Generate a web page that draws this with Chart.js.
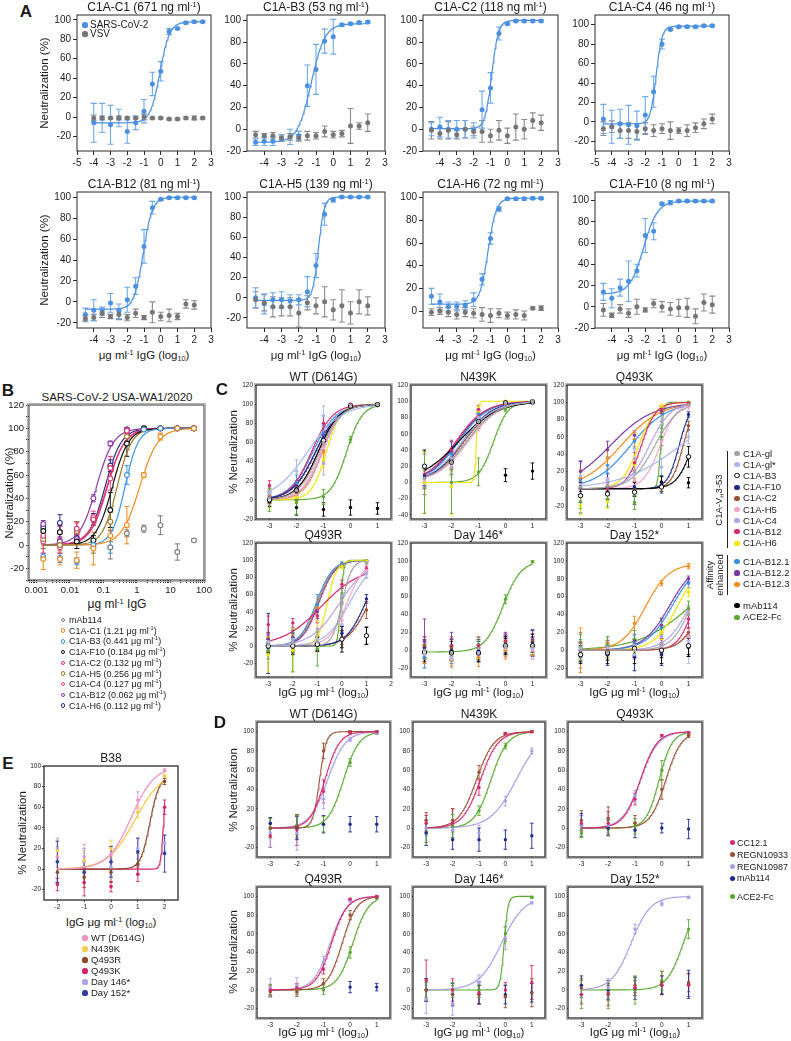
<!DOCTYPE html>
<html><head><meta charset="utf-8">
<script src="https://cdn.jsdelivr.net/npm/chart.js@4.4.1/dist/chart.umd.min.js"></script>
<style>
body{margin:0;background:#fff;width:791px;height:1041px;position:relative;overflow:hidden;font-family:"Liberation Sans",Arial,Helvetica,sans-serif;color:#1a1a1a;}
canvas{position:absolute;}
.t{position:absolute;white-space:nowrap;transform:translate(-50%,-50%);line-height:1;}
.l{position:absolute;white-space:nowrap;transform:translate(0,-50%);line-height:1;}
sup{font-size:0.62em;vertical-align:0.55em;line-height:0;}
sub{font-size:0.62em;vertical-align:-0.3em;line-height:0;}
</style></head><body>
<script>
// ================= DATA =================
// ---- Panel A ----
const aNames = ['C1A-C1','C1A-B3','C1A-C2','C1A-C4','C1A-B12','C1A-H5','C1A-H6','C1A-F10'];
const aIC50 = ['671','53','118','46','81','139','72','8'];
const aDoseC1 = [-4,-3.5,-3,-2.5,-2,-1.5,-1,-0.5,0,0.5,1,1.5,2,2.5];
const aDose = [-4.5,-4,-3.5,-3,-2.5,-2,-1.5,-1,-0.5,0,0.5,1,1.5,2];
const aSars = [
 [-6,-1,-8,-1,-15,-6,6,34,47,88,91,97,98,98],
 [-12,-11,-11,-8,-7,-6,40,55,81,85,96,97,98,98.5],
 [0,2,0,0,0,-1,18,38,88,97,99.5,99.5,99.5,99.5],
 [3,-5,-2,-3,-4,7,31,80,95,98,98,98,99,99],
 [-12,-8,-9,-1,-9,2,15,53,90,98,99.5,99.5,99.5,99.5],
 [0,-6,-2,-2,-3,-2,6,32,83,97,100,100,100,100],
 [13,8,4,4,5,10,28,64,90,99,99,99,99.5,99.5],
 [14,8,18,24,34,67,71,97,98,99.5,99.5,99.5,99.5,99.5]];
const aSarsErr = [
 [20,15,20,9,12,7,12,12,10,3,1,1,1,1],
 [3,4,4,3,7,4,19,23,11,16,1,1,1,1],
 [6,9,8,8,8,7,17,14,6,1,1,1,1,1],
 [15,17,15,20,15,19,16,5,1,1,1,1,1,1],
 [6,10,4,9,7,12,8,16,6,1,1,1,1,1],
 [10,10,7,8,6,5,15,12,11,2,1,1,1,1],
 [7,7,4,4,4,6,5,5,2,1,1,1,1,1],
 [8,9,8,19,6,16,8,1,2,1,1,1,1,1]];
const aVsv = [
 [-1,-1,-1,-1,-1,-1,0,-1,-1,-2,-2,-1,-1,-1],
 [-5,-6,-6,-8,-7,-8,-6,-6,-2,-5,-4,3,3,6],
 [-1,-4,-1,-5,0,-2,-2,-6,-1,-6,2,0,8,6],
 [-7,-5,-9,-9,-10,-7,-9,-7,-9,-9,-9,-6,-2,3],
 [-16,-15,-11,-14,-12,-15,-11,-15,-10,-14,-13,-14,-2,-3],
 [-2,-5,-9,-9,-9,-15,-5,-8,-4,-12,-8,-15,-4,-8],
 [-1,0,-1,-3,-1,-2,-3,-4,-2,-4,-3,-4,2.5,2.5],
 [-3,-8,-2,-6,0,-3,3,0,-2,-1,-1,-9,4,2]];
const aVsvErr = [
 [3,2,1,2,1,1,3,1,1,1,1,1,2,1],
 [3,2,3,3,3,3,4,3,5,3,3,16,3,8],
 [8,5,8,4,8,4,10,6,9,7,12,9,7,7],
 [7,6,8,8,8,6,6,5,9,3,6,5,5,5],
 [3,3,4,2,5,3,4,2,10,4,6,3,4,4],
 [8,8,10,9,9,14,7,8,15,10,16,11,12,9],
 [3,3,4,4,4,4,6,6,4,3,4,4,1,2],
 [6,2,4,4,7,2,4,5,6,8,9,7,8,8]];
// fit: [bottom, top, logEC50, hill]
const aFit = [[-6,98,-0.05,1.5],[-12,97,-1.28,1.1],[0.5,100,-0.93,2.2],[-2,98.5,-1.35,2.5],
 [-7,100,-1.05,1.6],[-2.5,100,-0.86,2.6],[6,99.5,-1.15,1.8],[12,99.5,-2.1,1.05]];
const aYRange = [[-35,105],[-20,105],[-20,105],[-30,110],[-25,105],[-30,105],[-15,105],[-20,108]];
const aXTicksFull = [-5,-4,-3,-2,-1,0,1,2,3];
const aXTicks = [-4,-3,-2,-1,0,1,2,3];
const aYTicks = [-20,0,20,40,60,80,100];
const aYTicksH6 = [0,20,40,60,80,100];

// ---- Panel B ----
const bConc = [0.0016,0.005,0.016,0.05,0.16,0.5,1.6,5,16,50];
const bNames = ['mAb114','C1A-C1','C1A-B3','C1A-F10','C1A-C2','C1A-H5','C1A-C4','C1A-B12','C1A-H6'];
const bIC50 = [null,'1.21','0.441','0.184','0.132','0.256','0.127','0.062','0.112'];
const bVals = [
 [null,null,null,null,-2,10,14,17,-6,4],
 [-12,-12,-13,-3,8,17,60,93,100,100],
 [-10,-11,-14,0,-2,60,99,100,100,100],
 [12,11,3,4,30,87,100,100,100,100],
 [8,11,14,22,66,98,100,100,100,100],
 [5,0,12,-2,20,93,100,100,100,100],
 [3,-2,11,24,57,97,100,100,100,100],
 [18,3,5,40,87,99,100,100,100,100],
 [15,19,6,22,68,99,100,100,100,100]];
const bErr = [
 [0,0,0,0,10,3,3,8,7,1],
 [9,5,7,14,5,16,2,3,1,1],
 [3,4,3,3,5,8,1,1,1,1],
 [5,6,6,4,15,11,1,1,1,1],
 [8,5,6,5,10,2,1,1,1,1],
 [8,5,8,5,8,4,1,1,1,1],
 [10,5,8,5,10,2,1,1,1,1],
 [3,4,4,3,2,1,1,1,1,1],
 [4,7,4,5,5,1,1,1,1,1]];
const bFit = [null,[0,100,0.083,1.6],[0,100,-0.356,2.2],[0,100,-0.735,1.8],[0,100,-0.879,1.7],
 [0,100,-0.592,2.0],[0,100,-0.896,1.6],[0,100,-1.208,1.7],[0,100,-0.951,1.8]];
const bXTicks = [0.001,0.01,0.1,1,10,100];
const bYTicks = [-20,0,20,40,60,80,100,120];

// ---- Panel C ----
const cDose = [-3,-2,-1,0,1];
const cNames = ['C1A-gl','C1A-gl*','C1A-B3','C1A-F10','C1A-C2','C1A-H5','C1A-C4','C1A-B12','C1A-H6','C1A-B12.1','C1A-B12.2','C1A-B12.3','mAb114','ACE2-Fc'];
const cTitles = ['WT (D614G)','N439K','Q493K','Q493R','Day 146*','Day 152*'];
const cWT = [[2,10,60,99,100],[8,30,88,99,100],[0,10,62,98,99.5],[1,12,65,99,100],[3,8,60,99,100],[4,6,55,99,100],[2,6,38,98,100],[15,12,80,100,100],[0,3,42,99,100],[2,18,70,99,100],[3,12,68,99,100],[4,5,50,99,100],[-2,-8,-10,-8,-9],[0,-3,3,63,99]];
const cWTErr = [[4,6,8,1,1],[5,12,10,1,1],[4,5,6,1,1],[4,5,7,1,1],[6,6,8,1,1],[10,6,8,1,1],[8,6,12,1,1],[5,8,8,1,1],[8,5,8,1,1],[5,8,8,1,1],[5,6,8,1,1],[8,6,10,1,1],[5,8,7,8,6],[12,12,8,3,1]];
const cWTFit = [[-1.15,1.1],[-1.6,0.7],[-1.2,1.1],[-1.3,1.0],[-1.2,1.1],[-1.1,1.2],[-1.05,1.2],[-1.45,1.1],[-0.9,1.6],[-1.4,1.0],[-1.3,1.0],[-1.05,1.3],null,[-0.15,1.5]];
const cN439K = [[5,25,75,97,100],[5,30,80,98,100],[20,25,75,98,99],[8,30,80,98,100],[5,28,78,97,100],[3,20,72,96,100],[3,22,75,97,100],[10,40,90,99,100],[0,-5,88,100,100],[5,35,85,99,100],[8,38,85,99,100],[3,25,80,98,100],[null,null,null,9,14],[0,0,13,90,100]];
const cN439KErr = [[10,10,8,2,1],[12,12,8,2,1],[20,15,8,2,1],[12,12,8,2,1],[12,12,8,2,1],[10,12,8,2,1],[10,12,8,2,1],[25,12,5,1,1],[38,35,5,1,1],[12,15,5,1,1],[12,12,5,1,1],[12,12,8,1,1],[0,0,0,8,10],[38,38,17,3,1]];
const cN439KFit = [[-1.45,0.75],[-1.6,0.75],[-1.75,0.6],[-1.6,0.8],[-1.55,0.75],[-1.4,0.75],[-1.45,0.75],[-1.85,0.8],[-1.08,12],[-1.75,0.8],[-1.8,0.8],[-1.55,0.8],null,[-0.45,1.6]];
const cQ493K = [[2,3,20,65,97],[15,10,18,25,60],[-8,-6,-4,2,37],[2,3,2,5,86],[2,2,0,2,73],[3,4,10,55,95],[5,5,35,78,97],[1,0,30,92,99],[-20,-15,28,95,99],[10,27,55,92,98],[20,45,62,90,98],[12,35,57,93,99],[2,2,2,8,7],[-15,-13,-16,60,100]];
const cQ493KErr = [[10,8,8,8,2],[15,12,10,10,8],[8,6,5,5,12],[30,15,20,10,3],[10,8,8,5,5],[10,8,8,10,3],[10,8,10,8,2],[10,8,12,3,1],[10,8,10,3,1],[10,10,8,3,1],[12,10,5,3,1],[10,12,8,3,1],[5,5,5,6,6],[8,8,8,10,1]];
const cQ493KFit = [[-0.25,1.0],[0.7,0.4],[1.15,1.5],[0.65,2.0],[0.8,2.0],[-0.05,1.4],[-0.45,1.1],[-0.75,1.6],[-0.85,1.4],[-1.15,0.65],[-1.9,0.55],[-1.5,0.6],null,[-0.03,8]];
const cQ493R = [[2,3,5,50,97],[5,5,8,25,85],[0,0,2,8,12],[3,5,3,15,55],[2,2,3,10,42],[3,5,8,30,88],[5,8,20,58,84],[25,27,35,72,90],[-10,-5,20,93,99],[5,8,48,96,99],[8,10,40,94,99],[3,5,45,95,99],[0,0,2,8,12],[-5,-5,-3,57,99]];
const cQ493RErr = [[8,8,8,10,2],[10,10,8,10,5],[8,8,8,10,10],[35,10,8,8,5],[8,8,8,8,10],[8,8,8,10,3],[8,8,8,10,5],[10,5,8,5,3],[20,25,10,3,1],[8,8,12,2,1],[8,8,8,2,1],[8,8,10,2,1],[8,10,8,15,10],[10,25,20,5,1]];
const cQ493RFit = [[0,2.2],[0.3,0.9],null,[0.95,1.1],[1.1,1.0],[0.2,1.2],[-0.1,0.75],[-0.85,0.55],[-0.6,2.2],[-1.05,1.3],[-0.95,1.3],[-1.0,1.3],null,[-0.05,7]];
const cD146 = [[0,-3,2,3,4],[-5,-8,-3,5,2],[-2,-3,-3,5,5],[2,0,0,6,8],[5,3,2,8,10],[-3,-10,-5,2,0],[-2,-5,-3,5,5],[3,5,5,10,6],[-2,-3,-2,3,3],[-8,-5,-3,8,5],[10,5,2,10,12],[-5,-8,-8,0,4],[-5,0,-5,5,8],[-2,-3,6,57,99]];
const cD146Err = [[8,10,8,10,10],[15,12,10,10,12],[8,8,8,8,10],[10,12,10,10,15],[10,10,10,10,12],[10,8,8,10,10],[10,10,10,10,10],[12,10,10,8,12],[8,8,8,8,8],[12,10,10,8,10],[25,15,10,10,10],[10,10,10,10,10],[8,10,8,10,10],[8,8,8,5,1]];
const cD146Fit = [null,null,null,null,null,null,null,null,null,null,null,null,null,[-0.1,1.3]];
const cD152 = [[0,-2,0,8,40],[2,3,-5,5,10],[-5,-3,2,0,5],[-2,-5,-8,-5,5],[0,0,2,5,20],[0,2,3,3,15],[0,2,5,15,42],[0,0,1,5,35],[0,0,5,20,65],[2,3,8,25,75],[1,3,10,28,80],[0,3,30,75,94],[-5,-5,-5,-5,3],[3,5,12,25,47]];
const cD152Err = [[10,10,10,10,10],[15,12,18,15,25],[8,8,10,8,10],[10,12,15,12,12],[20,8,8,8,5],[10,8,8,8,8],[10,8,8,10,8],[8,8,8,8,10],[10,8,8,8,5],[10,8,8,10,5],[8,8,8,8,3],[25,8,8,3,3],[10,10,10,10,10],[15,10,10,8,8]];
const cD152Fit = [[1.1,1.2],null,null,null,[1.5,1.2],[1.5,1.2],[1.05,1.0],[1.2,1.5],[0.6,1.0],[0.4,0.9],[0.3,0.9],[-0.6,1.0],null,[1.1,0.45]];
const cYRange = [[-20,120],[-45,120],[-35,120],[-36,120],[-30,120],[-30,120]];
const cXMax = [1.5,1.5,1.5,2,1.5,1.5];
const cYTicks = [[-20,0,20,40,60,80,100,120],[-40,-20,0,20,40,60,80,100,120],[-20,0,20,40,60,80,100,120],[-20,0,20,40,60,80,100,120],[-20,0,20,40,60,80,100,120],[-20,0,20,40,60,80,100,120]];
const cXTicks = [[-3,-2,-1,0,1],[-3,-2,-1,0,1],[-3,-2,-1,0,1],[-3,-2,-1,0,1,2],[-3,-2,-1,0,1],[-3,-2,-1,0,1]];

// ---- Panel D ----
const dDose = [-3,-2,-1,0,1];
const dNames = ['CC12.1','REGN10933','REGN10987','mAb114','ACE2-Fc'];
const dTitles = ['WT (D614G)','N439K','Q493K','Q493R','Day 146*','Day 152*'];
const dVals = [
 [[-8,-2,38,99,100],[0,2,80,100,100],[-5,-5,30,92,98],[5,0,4,4,4],[0,3,4,68,99]],
 [[5,5,42,98,100],[8,8,58,98,100],[0,-2,-5,28,80],[-5,-12,-12,-12,-8],[-5,2,18,85,100]],
 [[5,5,30,96,99],[8,10,5,40,96],[3,3,33,95,99],[3,0,-2,0,-1],[-5,0,2,60,98]],
 [[0,2,22,97,100],[-2,-2,7,80,99],[2,5,30,95,99],[null,null,null,3,3],[0,0,0,40,98]],
 [[10,0,-3,0,8],[0,-5,-5,-7,-3],[-10,-15,8,55,93],[0,-5,-5,-5,-3],[0,0,0,60,99]],
 [[-5,-5,2,5,5],[2,-3,5,8,8],[-5,2,65,92,99],[5,0,2,5,6],[-5,-5,0,10,65]]];
const dErr = [
 [[12,16,12,1,1],[10,12,8,1,1],[15,18,10,2,1],[6,12,9,8,8],[10,10,8,4,1]],
 [[8,15,8,1,1],[8,12,7,1,1],[8,8,8,5,3],[13,10,12,10,13],[10,12,5,3,1]],
 [[8,12,6,1,1],[10,12,8,10,2],[10,8,6,1,1],[12,8,8,5,10],[5,8,8,10,2]],
 [[5,5,5,1,1],[5,5,5,5,1],[10,8,6,1,1],[0,0,0,6,4],[6,5,5,6,1]],
 [[22,12,12,8,18],[12,10,10,12,15],[15,12,8,12,1],[12,12,10,10,10],[8,8,8,8,1]],
 [[10,12,8,10,12],[10,8,8,12,10],[8,10,5,2,1],[10,10,12,10,15],[15,15,15,10,10]]];
const dFit = [
 [[-0.95,1.6],[-1.15,3.5],[-0.85,1.3],null,[-0.25,1.5]],
 [[-0.95,1.3],[-1.1,1.3],[0.4,0.9],null,[-0.55,1.4]],
 [[-0.8,1.4],[0.15,1.5],[-0.8,1.3],null,[-0.1,1.8]],
 [[-0.7,1.5],[-0.3,1.6],[-0.75,1.4],null,[0.1,1.5]],
 [null,null,[-0.15,1.0],null,[-0.05,6]],
 [null,null,[-1.15,1.2],null,[0.8,1.4]]];
const dYTicks = [-20,0,20,40,60,80,100];
const dXTicks = [-3,-2,-1,0,1];

// ---- Panel E ----
const eDose = [-2,-1,0,1,2];
const eNames = ['WT (D614G)','N439K','Q493R','Q493K','Day 146*','Day 152*'];
const eVals = [[12,12,14,67,96],[18,8,20,55,90],[-3,-8,-3,5,85],[-15,-13,-17,-5,60],[20,8,2,20,25],[7,-3,7,17,15]];
const eErr = [[10,12,8,8,1],[10,10,8,5,2],[10,10,10,10,3],[6,13,5,7,7],[10,12,8,10,8],[20,10,15,13,18]];
const eFit = [[0,100,0.75,1.0],[0,96,0.9,0.85],[0,90,1.45,2.5],[0,100,1.97,8],null,null];
const eXTicks = [-2,-1,0,1,2];
const eYTicks = [-20,0,20,40,60,80,100];

// ================= STYLES =================
const A_BLUE = '#4a90df', A_BLUE_ERR = '#6ea8e8', A_GRAY = '#767676', A_GRAY_ERR = '#8a8a8a';
const bColors = ['#7a7a7a','#f08a1c','#3d95dc','#111111','#e0306a','#9c7b2a','#e8407c','#8a3aa8','#28308a'];
const cColors = ['#a3a3a3','#a9b7ea','#000000','#1d2a8c','#9a5134','#f3a5c6','#b6a3e4','#d42a6e','#f2e400','#3b8fe0','#7b3aa2','#f28c1c','#000000','#5aa832'];
const dColors = ['#d42a6e','#9a5134','#a99fe3','#1d2a8c','#5aa832'];
const eColors = ['#ee93c5','#f7cd4b','#8a4a2a','#d4246c','#aaa3e8','#2f3f9e'];

Chart.defaults.font.family = "'Liberation Sans', Arial, Helvetica, sans-serif";
Chart.defaults.color = '#1a1a1a';

// ================= HELPERS =================
function txt(html, x, y, size, o) {
  o = o || {};
  const d = document.createElement('div');
  d.className = o.left ? 'l' : 't';
  d.innerHTML = html;
  d.style.left = x + 'px'; d.style.top = y + 'px'; d.style.fontSize = size + 'px';
  if (o.bold) d.style.fontWeight = 'bold';
  if (o.rot) d.style.transform = 'translate(-50%,-50%) rotate(-90deg)';
  document.body.appendChild(d);
}
function dot(x, y, r, color, open) {
  const d = document.createElement('div');
  d.style.cssText = `position:absolute;left:${x-r}px;top:${y-r}px;width:${2*r}px;height:${2*r}px;border-radius:50%;box-sizing:border-box;` +
    (open ? `border:1.3px solid ${color};background:#fff;` : `background:${color};`);
  document.body.appendChild(d);
}
function vline(x, y1, y2) {
  const d = document.createElement('div');
  d.style.cssText = `position:absolute;left:${x}px;top:${y1}px;width:1px;height:${y2-y1}px;background:#222;`;
  document.body.appendChild(d);
}
function fitCurve(p, x0, x1, log) {
  const [bot, top, ec, h] = p; const out = [];
  const n = 160;
  for (let i = 0; i <= n; i++) {
    const lx = x0 + (x1 - x0) * i / n;
    const y = bot + (top - bot) / (1 + Math.pow(10, h * (ec - lx)));
    out.push({x: log ? Math.pow(10, lx) : lx, y});
  }
  return out;
}
function pts(xs, ys, es) {
  const d = [];
  xs.forEach((x, i) => { if (ys[i] != null) d.push({x, y: ys[i], e: es ? es[i] : 0}); });
  return d;
}
function ptDS(data, color, r, o) {
  o = o || {};
  return {data, showLine: false, pointRadius: r, pointHoverRadius: r,
    pointBackgroundColor: o.open ? '#fff' : color, pointBorderColor: color,
    pointBorderWidth: o.open ? (o.bw || 1) : 0, errColor: o.errColor || color, order: 0};
}
function lineDS(data, color, w) {
  return {data, showLine: true, pointRadius: 0, pointHoverRadius: 0, borderColor: color, borderWidth: w, order: 1, fill: false, tension: 0};
}

const errPlugin = {
  id: 'errbars',
  beforeDatasetsDraw(chart) {
    const {ctx, chartArea: a, scales: {x, y}} = chart;
    const o = chart.options.plugins.errbars || {};
    ctx.save();
    ctx.beginPath(); ctx.rect(a.left, a.top, a.right - a.left, a.bottom - a.top); ctx.clip();
    chart.data.datasets.forEach(ds => {
      if (ds.showLine) return;
      ctx.strokeStyle = ds.errColor; ctx.lineWidth = o.width || 1;
      const cap = o.cap || 3;
      ds.data.forEach(p => {
        if (!p.e) return;
        const px = x.getPixelForValue(p.x);
        const y1 = y.getPixelForValue(p.y - p.e), y2 = y.getPixelForValue(p.y + p.e);
        ctx.beginPath();
        ctx.moveTo(px, y1); ctx.lineTo(px, y2);
        ctx.moveTo(px - cap, y1); ctx.lineTo(px + cap, y1);
        ctx.moveTo(px - cap, y2); ctx.lineTo(px + cap, y2);
        ctx.stroke();
      });
    });
    ctx.restore();
  }
};
const framePlugin = {
  id: 'frame',
  afterDraw(chart) {
    const o = chart.options.plugins.frame || {};
    const {ctx, chartArea: a} = chart;
    ctx.save();
    if (o.halo) {
      ctx.strokeStyle = o.halo; ctx.lineWidth = 1;
      ctx.strokeRect(a.left - 1.5, a.top - 1.5, a.right - a.left + 3, a.bottom - a.top + 3);
    }
    ctx.strokeStyle = o.color || '#222'; ctx.lineWidth = o.width || 1;
    ctx.strokeRect(a.left, a.top, a.right - a.left, a.bottom - a.top);
    ctx.restore();
  }
};

function makePlot(box, o) {
  const [l, t, r, b] = box;
  const padL = o.padL || 36, padT = o.padT || 8, padR = o.padR || 14, padB = o.padB || 20;
  const W = (r - l) + padL + padR, H = (b - t) + padT + padB;
  const cv = document.createElement('canvas');
  cv.width = W; cv.height = H;
  cv.style.left = (l - padL) + 'px'; cv.style.top = (t - padT) + 'px';
  cv.style.width = W + 'px'; cv.style.height = H + 'px';
  document.body.appendChild(cv);
  const tf = o.tickFont || 10, tl = o.tickLen || 4, tp = o.tickPad || 2;
  const tickCol = o.frameColor || '#222';
  new Chart(cv, {
    type: 'scatter',
    data: {datasets: o.datasets},
    options: {
      responsive: false, animation: false, devicePixelRatio: 1, events: [],
      layout: {padding: {left: 0, top: padT, right: padR, bottom: 0}},
      plugins: {legend: {display: false}, tooltip: {enabled: false},
        frame: {color: o.frameColor || '#222', width: o.frameWidth || 1, halo: o.halo},
        errbars: {width: o.errWidth || 1, cap: o.cap || 3}},
      scales: {
        x: {type: o.xType || 'linear', min: o.xmin, max: o.xmax,
          afterFit: s => { s.height = padB; },
          afterBuildTicks: s => { s.ticks = o.xticks.map(v => ({value: v})); },
          grid: {drawOnChartArea: false, drawTicks: true, tickLength: tl, color: tickCol, tickColor: tickCol, lineWidth: 1},
          border: {display: false},
          ticks: {autoSkip: false, maxRotation: 0, padding: tp, font: {size: tf}, color: '#1a1a1a',
            callback: v => (o.xLabel ? o.xLabel(v) : String(v))}},
        y: {min: o.ymin, max: o.ymax,
          afterFit: s => { s.width = padL; },
          afterBuildTicks: s => { s.ticks = o.yticks.map(v => ({value: v})); },
          grid: {drawOnChartArea: false, drawTicks: true, tickLength: tl, color: tickCol, tickColor: tickCol, lineWidth: 1},
          border: {display: false},
          ticks: {autoSkip: false, padding: tp, font: {size: tf}, color: '#1a1a1a',
            callback: v => (o.yLabel ? o.yLabel(v) : String(v))}}
      }
    },
    plugins: [errPlugin, framePlugin]
  });
}

// ================= PANEL A =================
txt('A', 26, 11, 17, {bold: true});
const aBoxes = [[77,15,211,151],[247,15,385,151],[423,15,558,151],[595,15,729,151],
                [77,192,211,328],[247,192,385,328],[423,192,558,328],[595,192,729,328]];
aNames.forEach((nm, i) => {
  const xs = i === 0 ? aDoseC1 : aDose;
  const box = aBoxes[i];
  makePlot(box, {
    xmin: -5, xmax: 3, ymin: aYRange[i][0], ymax: aYRange[i][1],
    xticks: (i === 0 || i === 3) ? aXTicksFull : aXTicks,
    yticks: i === 6 ? aYTicksH6 : aYTicks,
    tickFont: 10, tickLen: 4, tickPad: 2, padL: 34, padB: 18, errWidth: 1.1, cap: 3,
    frameColor: '#2a2a2a',
    datasets: [
      ptDS(pts(xs, aVsv[i], aVsvErr[i]), A_GRAY, 2.5, {errColor: A_GRAY_ERR}),
      ptDS(pts(xs, aSars[i], aSarsErr[i]), A_BLUE, 2.5, {errColor: A_BLUE_ERR}),
      lineDS(fitCurve(aFit[i], xs[0], xs[xs.length - 1]), A_BLUE, 1.2)
    ]
  });
  const cx = (box[0] + box[2]) / 2;
  txt(`${nm} (${aIC50[i]} ng ml<sup>-1</sup>)`, cx, box[1] - 8, 12);
  if (i >= 4) txt('μg ml<sup>-1</sup> IgG (log<sub>10</sub>)', cx, 356, 11.5);
});
txt('Neutralization (%)', 45, 83, 11.5, {rot: true});
txt('Neutralization (%)', 45, 260, 11.5, {rot: true});
dot(85, 25, 2.6, A_BLUE); txt('SARS-CoV-2', 90, 25, 10, {left: true});
dot(85, 34, 2.6, A_GRAY); txt('VSV', 90, 34, 10, {left: true});

// ================= PANEL B =================
txt('B', 8, 390, 17, {bold: true});
txt('SARS-CoV-2 USA-WA1/2020', 117, 398, 11.5);
{
  const ds = [];
  bNames.forEach((nm, i) => {
    ds.push(ptDS(pts(bConc, bVals[i], bErr[i]), bColors[i], 2.4, {open: true, bw: 1.1}));
  });
  bNames.forEach((nm, i) => {
    if (bFit[i]) ds.push(lineDS(fitCurve(bFit[i], Math.log10(bConc[0]), Math.log10(bConc[bConc.length - 1]), true), bColors[i], 1.2));
  });
  const minor = [];
  for (let e = -4; e <= 1; e++) for (let k = 1; k <= 9; k++) { const v = k * Math.pow(10, e); if (v >= 0.0006 && v <= 100) minor.push(v); }
  minor.push(100);
  const yMinor = [];
  for (let v = -30; v <= 120; v += 10) yMinor.push(v);
  makePlot([29,405,204,580], {
    xType: 'logarithmic', xmin: 0.0006, xmax: 100, ymin: -30, ymax: 120,
    xticks: minor, yticks: yMinor, tickFont: 9.5, tickLen: 3, tickPad: 2, padL: 24, padB: 16, padR: 16,
    xLabel: v => (bXTicks.some(t => Math.abs(t - v) / t < 1e-6) ? String(v) : ''),
    yLabel: v => (bYTicks.includes(v) ? String(v) : ''),
    frameColor: '#333', errWidth: 1, cap: 2.5, halo: '#b0b0b0', datasets: ds
  });
}
txt('Neutralization (%)', 10, 493, 11.5, {rot: true});
txt('μg ml<sup>-1</sup> IgG', 117, 604, 12);
bNames.forEach((nm, i) => {
  const y = 620 + i * 10.7;
  dot(63, y, 2.3, bColors[i], true);
  txt(bIC50[i] ? `${nm} (${bIC50[i]} μg ml<sup>-1</sup>)` : nm, 69, y, 9, {left: true});
});

// ================= PANEL C =================
txt('C', 222, 389, 17, {bold: true});
const cBoxes = [[256,385,391,519],[411,385,546,519],[567,385,702,519],[256,543,391,677],[411,543,546,677],[567,543,702,677]];
const cAll = [cWT, cN439K, cQ493K, cQ493R, cD146, cD152];
const cAllErr = [cWTErr, cN439KErr, cQ493KErr, cQ493RErr, cD146Err, cD152Err];
const cAllFit = [cWTFit, cN439KFit, cQ493KFit, cQ493RFit, cD146Fit, cD152Fit];
cAll.forEach((vals, k) => {
  const ds = [];
  cNames.forEach((nm, i) => {
    ds.push(ptDS(pts(cDose, vals[i], cAllErr[k][i]), cColors[i], i === 2 ? 2.2 : 1.7, i === 2 ? {open: true, bw: 1} : {}));
  });
  cNames.forEach((nm, i) => {
    const f = cAllFit[k][i];
    if (!f) return;
    let top = 100, bot = 0;
    if (k === 3 && i === 7) top = 92;
    if (k === 5 && i === 11) top = 97;
    if (k === 4 && i === 13) bot = -2;
    ds.push(lineDS(fitCurve([bot, top, f[0], f[1]], -3, 1), cColors[i], 1.1));
  });
  const box = cBoxes[k];
  makePlot(box, {
    xmin: -3.5, xmax: cXMax[k], ymin: cYRange[k][0], ymax: cYRange[k][1],
    xticks: cXTicks[k], yticks: cYTicks[k], tickFont: 6.5, tickLen: 2, tickPad: 1, padL: 18, padB: 11, padR: 8,
    frameColor: '#3a3a3a', frameWidth: 1.4, halo: '#b8b8b8', errWidth: 0.9, cap: 1.8, datasets: ds
  });
  const cx = (box[0] + box[2]) / 2;
  txt(cTitles[k], cx, box[1] - 8, 12);
  if (k >= 3) txt('IgG μg ml<sup>-1</sup> (log<sub>10</sub>)', cx, 693, 11.5);
});
txt('% Neutralization', 234, 452, 11.5, {rot: true});
txt('% Neutralization', 234, 610, 11.5, {rot: true});
// legend C
const cLegY = [453.5,464.7,475.9,487.1,498.3,509.5,520.7,531.9,543.1,561.7,573,584.3,605.7,617.3];
cNames.forEach((nm, i) => {
  dot(737, cLegY[i], 2.6, cColors[i], i === 2);
  txt(nm, 743, cLegY[i], 9.5, {left: true});
});
vline(727, 451, 548);
txt('C1A-V<sub>H</sub>3-53', 719, 500, 9.5, {rot: true});
vline(727, 555, 595);
txt('Affinity', 710, 575, 9.5, {rot: true});
txt('enhanced', 720, 575, 9.5, {rot: true});

// ================= PANEL D =================
txt('D', 220, 722, 17, {bold: true});
const dBoxes = [[257,722,390,857],[413,722,545,857],[568,722,702,857],[257,887,390,1018],[413,887,545,1018],[568,887,702,1018]];
dVals.forEach((vals, k) => {
  const ds = [];
  dNames.forEach((nm, i) => ds.push(ptDS(pts(dDose, vals[i], dErr[k][i]), dColors[i], 1.7)));
  dNames.forEach((nm, i) => {
    const f = dFit[k][i];
    if (f) ds.push(lineDS(fitCurve([0, 100, f[0], f[1]], -3, 1), dColors[i], 1.1));
  });
  const box = dBoxes[k];
  makePlot(box, {
    xmin: -3.5, xmax: 1.5, ymin: -30, ymax: 110,
    xticks: dXTicks, yticks: dYTicks, tickFont: 6.5, tickLen: 2, tickPad: 1, padL: 18, padB: 11, padR: 8,
    frameColor: '#3a3a3a', frameWidth: 1.4, halo: '#b8b8b8', errWidth: 0.9, cap: 1.8, datasets: ds
  });
  const cx = (box[0] + box[2]) / 2;
  txt(dTitles[k], cx, box[1] - 8, 12);
  if (k >= 3) txt('IgG μg ml<sup>-1</sup> (log<sub>10</sub>)', cx, 1033, 11.5);
});
txt('% Neutralization', 234, 790, 11.5, {rot: true});
txt('% Neutralization', 234, 952, 11.5, {rot: true});
const dLegY = [842.7,854.6,866.5,878.4,896.5];
dNames.forEach((nm, i) => {
  dot(732, dLegY[i], 2.5, dColors[i]);
  txt(nm, 737, dLegY[i], 9, {left: true});
});

// ================= PANEL E =================
txt('E', 8, 763, 17, {bold: true});
{
  const ds = [];
  eNames.forEach((nm, i) => ds.push(ptDS(pts(eDose, eVals[i], eErr[i]), eColors[i], 1.8)));
  eNames.forEach((nm, i) => { if (eFit[i]) ds.push(lineDS(fitCurve(eFit[i], -2, 2), eColors[i], 1.2)); });
  makePlot([44,766,178,900], {
    xmin: -2.5, xmax: 2.5, ymin: -30, ymax: 100,
    xticks: eXTicks, yticks: eYTicks, tickFont: 6.5, tickLen: 2, tickPad: 1, padL: 18, padB: 11, padR: 8,
    frameColor: '#3a3a3a', frameWidth: 1.4, errWidth: 0.9, cap: 1.8, datasets: ds
  });
}
txt('B38', 111, 758, 12);
txt('% Neutralization', 23, 833, 11.5, {rot: true});
txt('IgG μg ml<sup>-1</sup> (log<sub>10</sub>)', 111, 923, 11.5);
eNames.forEach((nm, i) => {
  const y = 938 + i * 11;
  dot(85, y, 2.6, eColors[i]);
  txt(nm, 91, y, 9.5, {left: true});
});
</script>
</body></html>
